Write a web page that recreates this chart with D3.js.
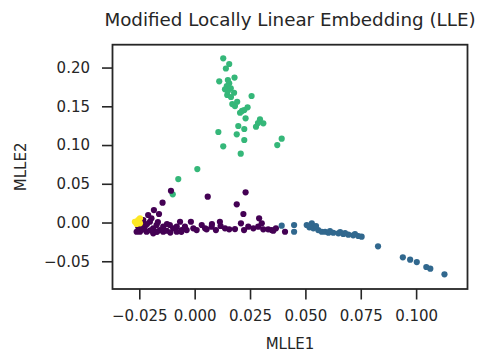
<!DOCTYPE html>
<html>
<head>
<meta charset="utf-8">
<script src="https://cdn.jsdelivr.net/npm/d3@7"></script>
<style>
  body { margin: 0; background: #fff; }
  svg { display: block; font-family: "DejaVu Sans", sans-serif; }
</style>
</head>
<body>
<div id="chart"></div>
<script>
// class colours (viridis, 4 classes)
const classColors = ['#440154', '#31688e', '#35b779', '#fde725'];

// points: [MLLE1, MLLE2]
const greenPoints = [
  [0.0129, 0.2119], [0.0156, 0.2046], [0.0141, 0.1988], [0.0180, 0.1871],
  [0.0111, 0.1822], [0.0156, 0.1797], [0.0145, 0.1762], [0.0137, 0.1719],
  [0.0163, 0.1732], [0.0178, 0.1675], [0.0147, 0.1646], [0.0257, 0.1633],
  [0.0192, 0.1559], [0.0170, 0.1529], [0.0239, 0.1487], [0.0224, 0.1452],
  [0.0205, 0.1417], [0.0230, 0.1345], [0.0295, 0.1332], [0.0310, 0.1280],
  [0.0277, 0.1236], [0.0197, 0.1246], [0.0224, 0.1207], [0.0107, 0.1168],
  [0.0190, 0.1138], [0.0224, 0.1065], [0.0393, 0.1082], [0.0373, 0.1000],
  [0.0129, 0.0983], [0.0208, 0.0888], [0.0150, 0.1697], [0.0164, 0.1620],
  [0.0182, 0.1503], [0.0214, 0.1440], [0.0286, 0.1284], [0.0150, 0.1839],
  [0.0012, 0.0690], [-0.0074, 0.0561], [-0.0099, 0.0364]
];

const yellowPoints = [
  [-0.0270, 0.0010], [-0.0255, 0.0032], [-0.0247, -0.0010],
  [-0.0262, -0.0019], [-0.0247, 0.0054]
];

const purplePoints = [
  [-0.0107, 0.0410], [-0.0145, 0.0256], [-0.0184, 0.0161], [-0.0161, 0.0110],
  [0.0059, 0.0333], [0.0230, 0.0390], [0.0190, 0.0235], [0.0220, 0.0110],
  [0.0209, -0.0010], [0.0291, 0.0054], [-0.0017, 0.0010], [-0.0210, 0.0097],
  [-0.0195, 0.0054], [-0.0232, 0.0032], [-0.0202, 0.0010], [-0.0225, -0.0054],
  [-0.0247, -0.0119], [-0.0255, -0.0054], [-0.0262, -0.0119], [-0.0239, -0.0032],
  [-0.0217, -0.0119], [-0.0187, -0.0075], [-0.0187, -0.0139], [-0.0172, -0.0032],
  [-0.0157, -0.0097], [-0.0142, -0.0054], [-0.0142, -0.0119], [-0.0126, -0.0106],
  [-0.0112, -0.0032], [-0.0097, -0.0075], [-0.0081, -0.0054], [-0.0081, -0.0119],
  [-0.0066, 0.0010], [-0.0059, -0.0097], [-0.0044, -0.0054], [-0.0036, -0.0097],
  [-0.0006, -0.0075], [0.0009, -0.0097], [0.0032, -0.0032], [0.0047, -0.0075],
  [0.0054, -0.0088], [0.0077, -0.0054], [0.0096, -0.0097], [0.0114, 0.0010],
  [0.0117, -0.0045], [0.0137, -0.0075], [0.0156, -0.0088], [0.0242, -0.0054],
  [0.0265, -0.0075], [0.0287, -0.0054], [0.0303, -0.0010], [0.0310, -0.0088],
  [0.0332, -0.0088], [0.0348, -0.0097], [0.0367, -0.0075], [0.0355, -0.0106],
  [0.0408, -0.0119], [0.0078, -0.0019], [0.0182, -0.0084], [0.0223, -0.0097],
  [-0.0166, 0.0006], [-0.0125, -0.0019], [-0.0215, -0.0019], [-0.0235, -0.0090],
  [-0.0200, -0.0100], [-0.0170, -0.0120], [-0.0110, -0.0130], [-0.0060, -0.0120]
];

const bluePoints = [
  [0.0393, -0.0041], [0.0449, -0.0032], [0.0449, -0.0119], [0.0506, -0.0032],
  [0.0529, -0.0010], [0.0518, -0.0062], [0.0536, -0.0075], [0.0558, -0.0097],
  [0.0574, -0.0119], [0.0589, -0.0119], [0.0604, -0.0132], [0.0626, -0.0132],
  [0.0649, -0.0139], [0.0671, -0.0148], [0.0694, -0.0157], [0.0716, -0.0165],
  [0.0739, -0.0174], [0.0754, -0.0183], [0.0548, -0.0045], [0.0611, -0.0110],
  [0.0679, -0.0136], [0.0724, -0.0148], [0.0657, -0.0123],
  [0.0828, -0.0307], [0.0940, -0.0449], [0.0973, -0.0480], [0.1003, -0.0510],
  [0.1046, -0.0574], [0.1064, -0.0596], [0.1128, -0.0669]
];

const xTicks = [-0.025, 0, 0.025, 0.05, 0.075, 0.1];
const yTicks = [-0.05, 0, 0.05, 0.1, 0.15, 0.2];

const titleText = 'Modified Locally Linear Embedding (LLE)';
const xLabel = 'MLLE1';
const yLabel = 'MLLE2';

// ----------------------------------------------------------------------------
// LAYOUT
// ----------------------------------------------------------------------------
const svgWidth = 481, svgHeight = 356;
const plotLeft = 112.5, plotRight = 467.5, plotTop = 44.7, plotBottom = 289;
const textColor = '#262626';
const tickSize = 10.5;

const svg = d3.select('#chart').append('svg')
  .attr('width', svgWidth)
  .attr('height', svgHeight);

const x = d3.scaleLinear().domain([-0.0371, 0.1232]).range([plotLeft, plotRight]);
const y = d3.scaleLinear().domain([-0.0858, 0.2295]).range([plotBottom, plotTop]);

// ----------------------------------------------------------------------------
// POINTS
// ----------------------------------------------------------------------------
const groups = [
  {points: greenPoints, color: classColors[2]},
  {points: purplePoints, color: classColors[0]},
  {points: yellowPoints, color: classColors[3]},
  {points: bluePoints, color: classColors[1]},
];

const dataLayer = svg.append('g').attr('class', 'layer-data');
groups.forEach(g => {
  dataLayer.append('g').selectAll('circle')
    .data(g.points)
    .enter().append('circle')
      .attr('cx', d => x(d[0]))
      .attr('cy', d => y(d[1]))
      .attr('r', 3.1)
      .attr('fill', g.color);
});

// ----------------------------------------------------------------------------
// AXES
// ----------------------------------------------------------------------------
const xAxis = svg.append('g')
  .attr('transform', `translate(0,${plotBottom})`)
  .call(d3.axisBottom(x).tickValues(xTicks).tickFormat(d3.format('.3f'))
    .tickSize(tickSize).tickPadding(11));

const yAxis = svg.append('g')
  .attr('transform', `translate(${plotLeft},0)`)
  .call(d3.axisLeft(y).tickValues(yTicks).tickFormat(d3.format('.2f'))
    .tickSize(tickSize).tickPadding(12));

[xAxis, yAxis].forEach(a => {
  a.select('.domain').remove();
  a.selectAll('.tick line').attr('stroke', textColor).attr('stroke-width', 1.6);
  a.selectAll('.tick text')
    .attr('fill', textColor)
    .attr('font-size', 15)
    .attr('font-family', '"DejaVu Sans", sans-serif');
});

// frame
svg.append('rect')
  .attr('x', plotLeft)
  .attr('y', plotTop)
  .attr('width', plotRight - plotLeft)
  .attr('height', plotBottom - plotTop)
  .attr('fill', 'none')
  .attr('stroke', textColor)
  .attr('stroke-width', 1.8);

// ----------------------------------------------------------------------------
// TEXTS
// ----------------------------------------------------------------------------
svg.append('text')
  .attr('x', (plotLeft + plotRight) / 2)
  .attr('y', 26)
  .attr('text-anchor', 'middle')
  .attr('font-size', 18.3)
  .attr('fill', textColor)
  .text(titleText);

svg.append('text')
  .attr('x', (plotLeft + plotRight) / 2)
  .attr('y', 349)
  .attr('text-anchor', 'middle')
  .attr('font-size', 15)
  .attr('fill', textColor)
  .text(xLabel);

svg.append('text')
  .attr('transform', `translate(26,${(plotTop + plotBottom) / 2}) rotate(-90)`)
  .attr('text-anchor', 'middle')
  .attr('font-size', 15)
  .attr('fill', textColor)
  .text(yLabel);
</script>
</body>
</html>
